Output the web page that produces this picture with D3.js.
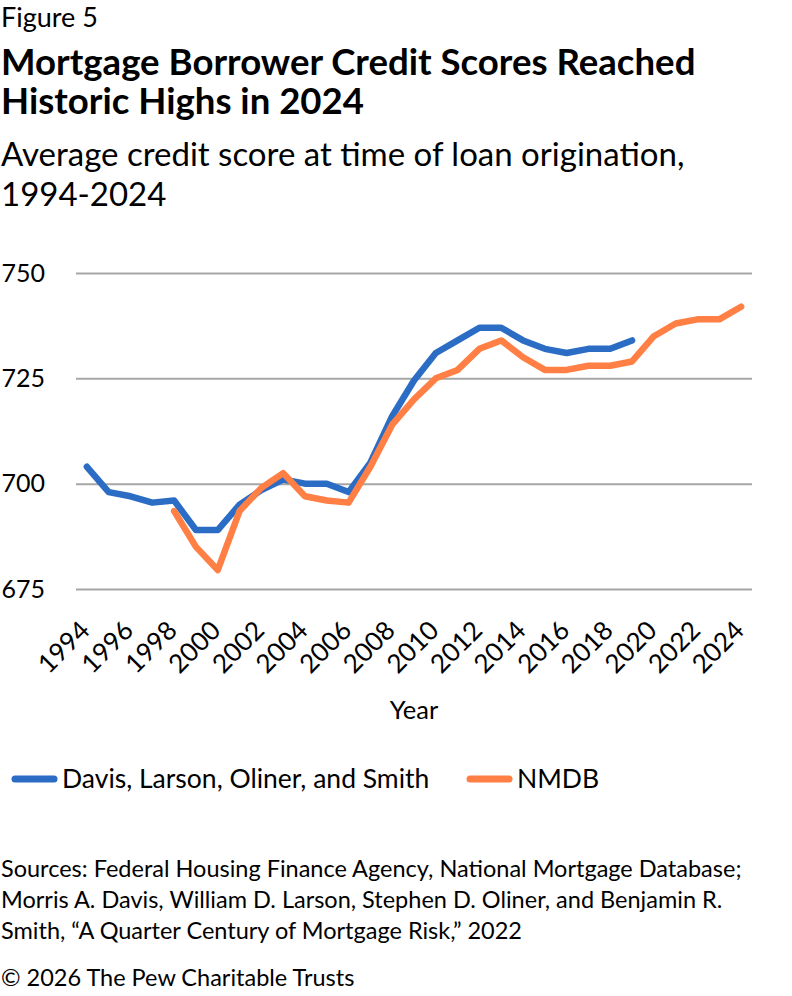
<!DOCTYPE html>
<html>
<head>
<meta charset="utf-8">
<script src="https://cdn.jsdelivr.net/npm/d3@7"></script>
<style>
  body { margin: 0; background: #fff; }
  text { font-family: Lato, "Noto Sans", sans-serif; fill: #000; }
</style>
</head>
<body>
<div id="chart"></div>
<script>
// data
const years = d3.range(1994, 2025);
const yearTicks = d3.range(1994, 2025, 2);
const scoreTicks = [675, 700, 725, 750];

const dlosYears = d3.range(1994, 2020);
const dlosScores = [704, 698, 697, 695.5, 696, 689, 689, 695, 698.5, 701, 700, 700, 698,
  705, 716, 724.5, 731, 734, 737, 737, 734, 732, 731, 732, 732, 734];

const nmdbYears = d3.range(1998, 2025);
const nmdbScores = [693.5, 685, 679.5, 693.5, 699, 702.5, 697, 696, 695.5, 704, 714, 720,
  725, 727, 732, 734, 730, 727, 727, 728, 728, 729, 735, 738, 739, 739, 742];

const seriesNames = ["Davis, Larson, Oliner, and Smith", "NMDB"];
const colors = ["#2b6cc4", "#ff7f45"];

const titleLines = ["Mortgage Borrower Credit Scores Reached", "Historic Highs in 2024"];
const subtitleLines = ["Average credit score at time of loan origination,", "1994-2024"];

const W = 792, H = 996;
const plot = { left: 76, right: 752, top: 273, bottom: 589 };

const svg = d3.select("#chart").append("svg")
  .attr("width", W)
  .attr("height", H);

// titles
svg.append("text").attr("x", 1).attr("y", 27).text("Figure 5")
  .style("font-size", "27px");

const title = svg.append("text")
  .style("font-size", "36.6px").style("font-weight", "bold");
title.selectAll("tspan")
  .data(titleLines)
  .join("tspan")
  .attr("x", 1)
  .attr("y", (d, i) => 75 + i * 39)
  .text(d => d);

const subtitle = svg.append("text")
  .style("font-size", "33px");
subtitle.selectAll("tspan")
  .data(subtitleLines)
  .join("tspan")
  .attr("x", 1)
  .attr("y", (d, i) => 166 + i * 40)
  .text(d => d);

// scales
const x = d3.scalePoint()
  .domain(years)
  .range([plot.left, plot.right])
  .padding(0.5);

const y = d3.scaleLinear()
  .domain([675, 750])
  .range([plot.bottom, plot.top]);

// Y axis with gridlines
const yAxis = svg.append("g")
  .attr("transform", `translate(${plot.left},0)`)
  .call(d3.axisLeft(y).tickValues(scoreTicks)
    .tickSize(-(plot.right - plot.left)).tickPadding(31));
yAxis.select(".domain").remove();
yAxis.selectAll("line").attr("stroke", "#a6a6a6").attr("stroke-width", 2);
yAxis.selectAll("text").style("font-size", "25px").style("font-family", "Lato").attr("fill", "#000");

// X axis, rotated labels
const xAxis = svg.append("g")
  .attr("transform", `translate(0,${plot.bottom})`)
  .call(d3.axisBottom(x).tickValues(yearTicks).tickSize(0));
xAxis.select(".domain").remove();
xAxis.selectAll("text")
  .style("font-size", "26px").style("font-family", "Lato").attr("fill", "#000")
  .attr("text-anchor", "end")
  .attr("y", 0).attr("dy", 0)
  .attr("transform", "translate(4,43) rotate(-45)");

svg.append("text")
  .attr("x", 414).attr("y", 719)
  .attr("text-anchor", "middle")
  .text("Year")
  .style("font-size", "25.5px");

// lines
const line = d3.line()
  .x(d => x(d[0]))
  .y(d => y(d[1]));

const series = [
  d3.zip(dlosYears, dlosScores),
  d3.zip(nmdbYears, nmdbScores)
];

svg.selectAll(".series")
  .data(series)
  .join("path")
  .attr("class", "series")
  .attr("fill", "none")
  .attr("stroke", (d, i) => colors[i])
  .attr("stroke-width", 6.5)
  .attr("stroke-linejoin", "round")
  .attr("stroke-linecap", "round")
  .attr("d", line);

// legend
const legendX = [12, 467];
const legend = svg.selectAll(".legend")
  .data(seriesNames)
  .join("g")
  .attr("class", "legend")
  .attr("transform", (d, i) => `translate(${legendX[i]},779)`);
legend.append("line")
  .attr("x1", 3).attr("x2", 42)
  .attr("stroke", (d, i) => colors[i])
  .attr("stroke-width", 7)
  .attr("stroke-linecap", "round");
legend.append("text")
  .attr("x", 50).attr("y", 9)
  .text(d => d)
  .style("font-size", "26.5px");

// sources
const notes = [
  "Sources: Federal Housing Finance Agency, National Mortgage Database;",
  "Morris A. Davis, William D. Larson, Stephen D. Oliner, and Benjamin R.",
  "Smith, \u201CA Quarter Century of Mortgage Risk,\u201D 2022"
];
const noteText = svg.append("text")
  .style("font-size", "23.5px");
noteText.selectAll("tspan")
  .data(notes)
  .join("tspan")
  .attr("x", 1)
  .attr("y", (d, i) => 877 + i * 31)
  .text(d => d);

svg.append("text").attr("x", 1).attr("y", 986)
  .text("\u00A9 2026 The Pew Charitable Trusts")
  .style("font-size", "23.5px");
</script>
</body>
</html>
